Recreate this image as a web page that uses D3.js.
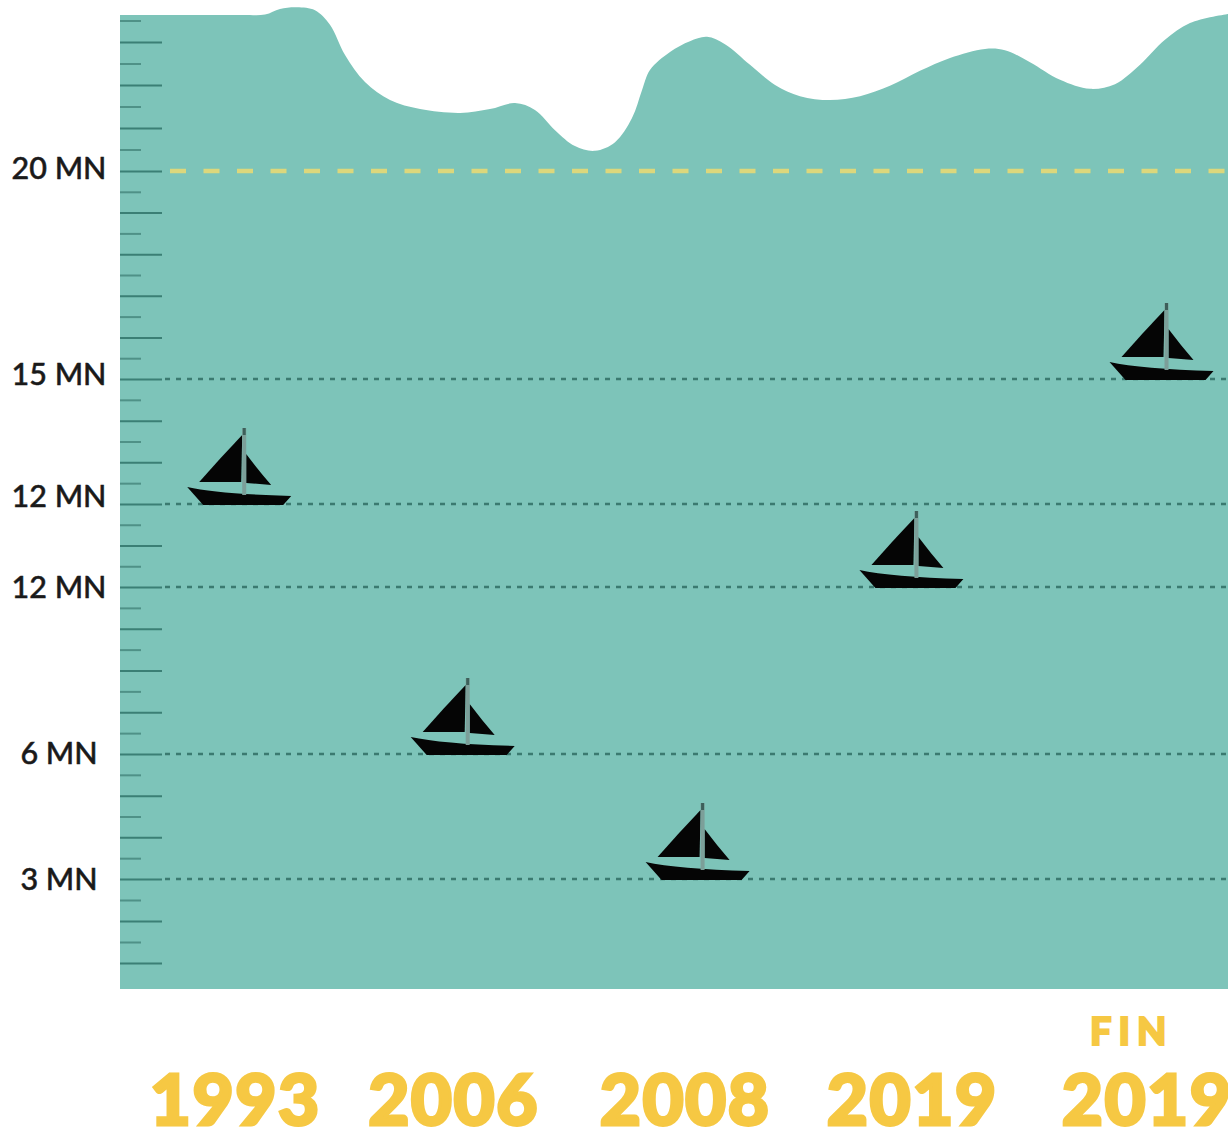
<!DOCTYPE html>
<html>
<head>
<meta charset="utf-8">
<script src="https://d3js.org/d3.v7.min.js"></script>
<style>
    html, body { margin: 0; padding: 0; background: #fff; overflow: hidden; }
    svg { display: block; }
</style>
</head>
<body>
<div id="my_dataviz"></div>
<script>
// boats
var years = ["1993", "2006", "2008", "2019", "2019"];
var boat_values = [12, 6, 3, 10, 15];
var boat_pos = [11.21, 31.38, 52.58, 71.88, 94.45];
var year_pos = [10.4, 30.1, 51, 71.5, 92.7];

// depth labels. the 4th one really reads "12 MN" in the picture
var label_values = [20, 15, 12, 10, 6, 3];
var label_names = ["20 MN", "15 MN", "12 MN", "12 MN", "6 MN", "3 MN"];
var label_shift = [-3, -5, -8, 0, -1, 0];
var guide_values = [15, 12, 10, 6, 3];
var target_value = 20;

// water surface, position along the width (0-100) and level
var surface_pos = [0, 6, 11, 13.09, 14.44, 15.97, 17.6, 18.95, 20.31, 22.11, 24.37, 27.08, 30.69, 33.39, 35.65, 37.45, 39.26, 41.06, 42.87, 44.68, 46.21, 47.11, 47.83, 49.64, 51.44, 52.98, 54.6, 56.86, 59.12, 61.37, 64.08, 66.79, 69.49, 72.2, 74.91, 78.07, 79.87, 82.13, 84.84, 87.55, 89.8, 92.06, 94.31, 96.57, 100];
var surface_level = [23.63, 23.63, 23.63, 23.64, 23.77, 23.81, 23.74, 23.4, 22.7, 22.07, 21.65, 21.44, 21.35, 21.44, 21.58, 21.42, 20.95, 20.58, 20.47, 20.67, 21.23, 21.88, 22.35, 22.77, 23.02, 23.12, 22.95, 22.47, 22, 21.74, 21.65, 21.74, 21.98, 22.33, 22.63, 22.84, 22.81, 22.53, 22.12, 21.91, 22.02, 22.47, 23.05, 23.44, 23.65];
var bottom_level = 0.38;

var long_ticks = d3.range(1, 24);
var short_ticks = d3.range(1.5, 24, 1);

var width = 1228, height = 1133;

var svg = d3.select("#my_dataviz")
    .append("svg")
    .attr("width", width)
    .attr("height", height);

var x = d3.scaleLinear().domain([0, 100]).range([120, 1228]);
// the ruler of the picture is not quite regular, so piecewise
var y = d3.scaleLinear()
    .domain([1, 3, 6, 10, 12, 15, 20, 23])
    .range([963, 879, 754, 587, 504, 379, 171, 42]);

var area = d3.area()
    .x(function (d) { return x(d.pos) })
    .y0(y(bottom_level))
    .y1(function (d) { return y(d.level) })
    .curve(d3.curveCatmullRom.alpha(0.5));

var surface = surface_pos.map(function (p, i) {
    return { pos: p, level: surface_level[i] };
});

svg.append("path")
    .datum(surface)
    .attr("d", area)
    .attr("fill", "#7dc4b9");

// ruler
function ruler(values, size, color, w) {
    var g = svg.append("g")
        .attr("transform", "translate(120,0)")
        .call(d3.axisRight(y).tickValues(values).tickSize(size).tickFormat(""));
    g.select(".domain").remove();
    g.selectAll("line").attr("stroke", color).attr("stroke-width", w);
}
ruler(long_ticks, 42, "#3b7f75", 2);
ruler(short_ticks, 21, "#4f9187", 2);

// depth labels
var labels = svg.append("g")
    .attr("transform", "translate(120,0)")
    .call(d3.axisLeft(y).tickValues(label_values).tickSize(0).tickFormat(function (d, i) { return label_names[i]; }));
labels.select(".domain").remove();
labels.selectAll("text")
    .attr("x", -61)
    .attr("dy", function (d, i) { return label_shift[i] + 10; })
    .attr("text-anchor", "middle")
    .attr("fill", "#1a1a1a")
    .attr("stroke", "#1a1a1a")
    .attr("stroke-width", 0.5)
    .style("font-family", "Lato")
    .style("font-size", "30.5px")
    .style("font-weight", 500);

// dotted guides
svg.selectAll("guide")
    .data(guide_values)
    .enter()
    .append("line")
    .attr("x1", 165)
    .attr("x2", width)
    .attr("y1", function (d) { return y(d) })
    .attr("y2", function (d) { return y(d) })
    .attr("stroke", "#3b7a70")
    .attr("stroke-width", 2.5)
    .attr("stroke-dasharray", "5 6");

svg.append("line")
    .attr("x1", 170)
    .attr("x2", width)
    .attr("y1", y(target_value))
    .attr("y2", y(target_value))
    .attr("stroke", "#dcd77c")
    .attr("stroke-width", 4.5)
    .attr("stroke-dasharray", "16 17.5");

// boats, origin is the foot of the mast on the guide
var boats = svg.selectAll("boat")
    .data(boat_values)
    .enter()
    .append("g")
    .attr("transform", function (d, i) { return "translate(" + x(boat_pos[i]) + "," + y(d) + ")" });

boats.append("path")
    .attr("fill", "#050505")
    .attr("d", "M-57,-17 Q-25,-10 47,-8 L39,1 L-41,1 Z");
boats.append("path")
    .attr("fill", "#050505")
    .attr("d", "M-2,-69 Q-24,-46 -45,-22 L-3,-22 Z");
boats.append("path")
    .attr("fill", "#050505")
    .attr("d", "M2,-50 Q14,-34 27,-19 L2,-21 Z");
boats.append("line")
    .attr("y1", -76)
    .attr("y2", -9)
    .attr("stroke", "#7c9f99")
    .attr("stroke-width", 4);
boats.append("line")
    .attr("y1", -76)
    .attr("y2", -69)
    .attr("stroke", "#3d5f5a")
    .attr("stroke-width", 3);

// years
svg.selectAll("year")
    .data(years)
    .enter()
    .append("text")
    .attr("x", function (d, i) { return x(year_pos[i]) })
    .attr("y", 1125)
    .attr("text-anchor", "middle")
    .attr("fill", "#f6c843")
    .attr("stroke", "#f6c843")
    .attr("stroke-width", 3)
    .style("font-family", "Lato")
    .style("font-size", "71px")
    .style("font-weight", 900)
    .style("letter-spacing", "1.5px")
    .text(function (d) { return d });

svg.append("text")
    .attr("x", x(91.3))
    .attr("y", 1045)
    .attr("text-anchor", "middle")
    .attr("fill", "#f6c843")
    .attr("stroke", "#f6c843")
    .attr("stroke-width", 2)
    .style("font-family", "Lato")
    .style("font-size", "38px")
    .style("font-weight", 900)
    .style("letter-spacing", "7px")
    .text("FIN");
</script>
</body>
</html>
